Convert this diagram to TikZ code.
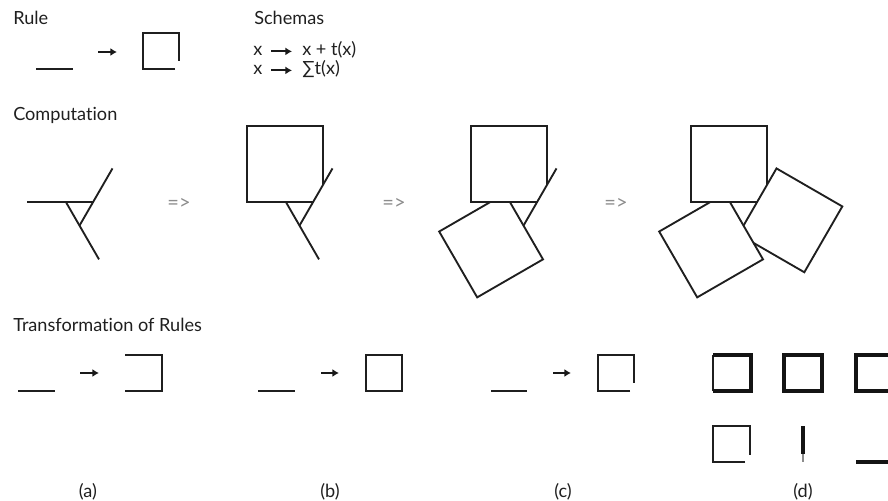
\documentclass[tikz,border=0pt]{standalone}
\usepackage{fontspec}
\setmainfont{Lato}[Ligatures=NoCommon]
\usetikzlibrary{arrows.meta}

\begin{document}
\begin{tikzpicture}[x=0.75pt,y=0.75pt]
    \pgfmathsetmacro{\side}{27}
    \pgfmathsetmacro{\arm}{39}
    \pgfmathsetmacro{\sq}{76}
    \pgfmathsetmacro{\lineY}{\side/(2*sqrt(3))}
    \pgfmathsetmacro{\lineR}{\side/2}
    \pgfmathsetmacro{\lineL}{\lineR-\side-\arm}
    \pgfmathsetmacro{\sqR}{\lineL+\sq}
    \pgfmathsetmacro{\sqT}{\lineY+\sq}
    \pgfmathsetmacro{\sqCut}{\lineY+(\sq-\side-\arm)*sqrt(3)}
    \tikzset{every node/.style={font=\fontsize{13.6}{16}\selectfont,text=black!88,inner sep=0pt},
        stroke/.style={line width=1.4pt,draw=black!88},
        thickstroke/.style={line width=2.4pt,draw=black!92},
        ruletip/.style={line width=1.4pt,draw=black!90,-{Latex[length=5pt,width=6pt]}},
        implies/.style={font=\fontsize{15}{17}\selectfont,text=black!45}}
    \useasboundingbox (0,0) rectangle (888,500);
    \clip (0,0) rectangle (888,500);
    % rule
    \node[anchor=base west] (rule) at (13,475) {Rule};
    \coordinate (ruleA) at (98,448);
    \coordinate (ruleB) at (117,448);
    \draw[stroke] (36,431) -- (73,431);
    \draw[ruletip] (ruleA) -- (ruleB);
    \draw[stroke] (175,431) -- (143,431) -- (143,467) -- (179,467) -- (179,439);
    % schemas
    \node[anchor=base west] (schemas) at (254,475) {Schemas};
    \node[anchor=base west] (xa) at (253,444) {x};
    \node[anchor=base west] (ta) at (302,444) {x + t(x)};
    \node[anchor=base west] (xb) at (253,425) {x};
    \node[anchor=base west] (tb) at (302,425) {∑t(x)};
    \draw[ruletip,shorten <=6.5pt,shorten >=7.5pt] (xa.east) -- (xa.east -| ta.west);
    \draw[ruletip,shorten <=6.5pt,shorten >=7.5pt] (xb.east) -- (xb.east -| tb.west);
    % computation
    \node[anchor=base west] (computation) at (13,379) {Computation};
    \node[implies] (stepA) at (179,296) {=>};
    \node[implies] (stepB) at (394,296) {=>};
    \node[implies] (stepC) at (616,296) {=>};
    \draw[stroke,shift={(79.5,290)}] (\lineL,\lineY) -- (\lineR,\lineY);
    \draw[stroke,shift={(79.5,290)},rotate=120] (\lineL,\lineY) -- (\lineR,\lineY);
    \draw[stroke,shift={(79.5,290)},rotate=-120] (\lineL,\lineY) -- (\lineR,\lineY);
    \draw[stroke,shift={(299.5,290)}] (\lineR,\lineY) -- (\lineL,\lineY) -- (\lineL,\sqT) -- (\sqR,\sqT) -- (\sqR,\sqCut);
    \draw[stroke,shift={(299.5,290)},rotate=120] (\lineL,\lineY) -- (\lineR,\lineY);
    \draw[stroke,shift={(299.5,290)},rotate=-120] (\lineL,\lineY) -- (\lineR,\lineY);
    \draw[stroke,shift={(523.5,290)}] (\lineR,\lineY) -- (\lineL,\lineY) -- (\lineL,\sqT) -- (\sqR,\sqT) -- (\sqR,\sqCut);
    \draw[stroke,shift={(523.5,290)},rotate=120] (\lineR,\lineY) -- (\lineL,\lineY) -- (\lineL,\sqT) -- (\sqR,\sqT) -- (\sqR,\sqCut);
    \draw[stroke,shift={(523.5,290)},rotate=-120] (\lineL,\lineY) -- (\lineR,\lineY);
    \draw[stroke,shift={(743.5,290)}] (\lineR,\lineY) -- (\lineL,\lineY) -- (\lineL,\sqT) -- (\sqR,\sqT) -- (\sqR,\sqCut);
    \draw[stroke,shift={(743.5,290)},rotate=120] (\lineR,\lineY) -- (\lineL,\lineY) -- (\lineL,\sqT) -- (\sqR,\sqT) -- (\sqR,\sqCut);
    \draw[stroke,shift={(743.5,290)},rotate=-120] (\lineR,\lineY) -- (\lineL,\lineY) -- (\lineL,\sqT) -- (\sqR,\sqT) -- (\sqR,\sqCut);
    % transformation of rules
    \node[anchor=base west] (transform) at (13,168) {Transformation of Rules};
    \coordinate (tipA0) at (80,127);
    \coordinate (tipA1) at (99,127);
    \coordinate (tipB0) at (321,127);
    \coordinate (tipB1) at (339,127);
    \coordinate (tipC0) at (553,127);
    \coordinate (tipC1) at (571,127);
    \draw[stroke] (18,109) -- (55,109);
    \draw[ruletip] (tipA0) -- (tipA1);
    \draw[stroke] (125,145) -- (162,145) -- (162,109) -- (125,109);
    \draw[stroke] (258,109) -- (295,109);
    \draw[ruletip] (tipB0) -- (tipB1);
    \draw[stroke] (366,109) rectangle (402,145);
    \draw[stroke] (491,109) -- (527,109);
    \draw[ruletip] (tipC0) -- (tipC1);
    \draw[stroke] (630,109) -- (598,109) -- (598,145) -- (634,145) -- (634,117);
    \draw[stroke] (713,109) -- (713,145);
    \draw[thickstroke] (713,109) -- (751,109) -- (751,145) -- (713,145);
    \draw[thickstroke] (784,109) rectangle (822,145);
    \draw[thickstroke] (894,145) -- (856,145) -- (856,109) -- (894,109);
    \draw[stroke] (745,38) -- (713,38) -- (713,74) -- (750,74) -- (750,45);
    \draw[thickstroke] (803,74) -- (803,46);
    \draw[stroke,draw=black!45] (803,46) -- (803,38);
    \draw[thickstroke] (856,38) -- (894,38);
    \node (labelA) at (88,8) {(a)};
    \node (labelB) at (330,8) {(b)};
    \node (labelC) at (563,8) {(c)};
    \node (labelD) at (803,8) {(d)};
\end{tikzpicture}
\end{document}
